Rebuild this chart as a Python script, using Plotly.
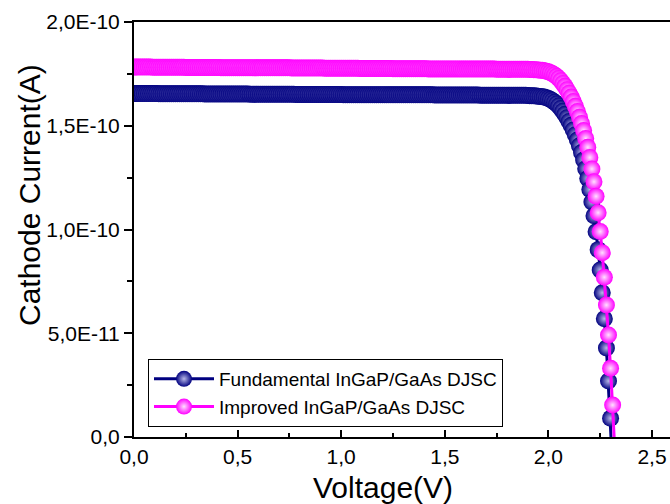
import numpy as np
import plotly.graph_objects as go

# Voltage sweep (V), 0.01 V steps
voltage_v = [
    0.00, 0.01, 0.02, 0.03, 0.04, 0.05, 0.06, 0.07, 0.08, 0.09,
    0.10, 0.11, 0.12, 0.13, 0.14, 0.15, 0.16, 0.17, 0.18, 0.19,
    0.20, 0.21, 0.22, 0.23, 0.24, 0.25, 0.26, 0.27, 0.28, 0.29,
    0.30, 0.31, 0.32, 0.33, 0.34, 0.35, 0.36, 0.37, 0.38, 0.39,
    0.40, 0.41, 0.42, 0.43, 0.44, 0.45, 0.46, 0.47, 0.48, 0.49,
    0.50, 0.51, 0.52, 0.53, 0.54, 0.55, 0.56, 0.57, 0.58, 0.59,
    0.60, 0.61, 0.62, 0.63, 0.64, 0.65, 0.66, 0.67, 0.68, 0.69,
    0.70, 0.71, 0.72, 0.73, 0.74, 0.75, 0.76, 0.77, 0.78, 0.79,
    0.80, 0.81, 0.82, 0.83, 0.84, 0.85, 0.86, 0.87, 0.88, 0.89,
    0.90, 0.91, 0.92, 0.93, 0.94, 0.95, 0.96, 0.97, 0.98, 0.99,
    1.00, 1.01, 1.02, 1.03, 1.04, 1.05, 1.06, 1.07, 1.08, 1.09,
    1.10, 1.11, 1.12, 1.13, 1.14, 1.15, 1.16, 1.17, 1.18, 1.19,
    1.20, 1.21, 1.22, 1.23, 1.24, 1.25, 1.26, 1.27, 1.28, 1.29,
    1.30, 1.31, 1.32, 1.33, 1.34, 1.35, 1.36, 1.37, 1.38, 1.39,
    1.40, 1.41, 1.42, 1.43, 1.44, 1.45, 1.46, 1.47, 1.48, 1.49,
    1.50, 1.51, 1.52, 1.53, 1.54, 1.55, 1.56, 1.57, 1.58, 1.59,
    1.60, 1.61, 1.62, 1.63, 1.64, 1.65, 1.66, 1.67, 1.68, 1.69,
    1.70, 1.71, 1.72, 1.73, 1.74, 1.75, 1.76, 1.77, 1.78, 1.79,
    1.80, 1.81, 1.82, 1.83, 1.84, 1.85, 1.86, 1.87, 1.88, 1.89,
    1.90, 1.91, 1.92, 1.93, 1.94, 1.95, 1.96, 1.97, 1.98, 1.99,
    2.00, 2.01, 2.02, 2.03, 2.04, 2.05, 2.06, 2.07, 2.08, 2.09,
    2.10, 2.11, 2.12, 2.13, 2.14, 2.15, 2.16, 2.17, 2.18, 2.19,
    2.20, 2.21, 2.22, 2.23, 2.24, 2.25, 2.26, 2.27, 2.28, 2.29,
    2.30, 2.31, 2.32,
]

# Cathode current, pA
fundamental_pA = [
    165.5, 165.5, 165.5, 165.5, 165.5, 165.5, 165.5, 165.5, 165.5, 165.5,
    165.5, 165.5, 165.4, 165.4, 165.4, 165.4, 165.4, 165.4, 165.4, 165.4,
    165.4, 165.4, 165.4, 165.4, 165.4, 165.4, 165.4, 165.4, 165.4, 165.4,
    165.4, 165.4, 165.4, 165.4, 165.3, 165.3, 165.3, 165.3, 165.3, 165.3,
    165.3, 165.3, 165.3, 165.3, 165.3, 165.3, 165.3, 165.3, 165.3, 165.3,
    165.3, 165.3, 165.3, 165.3, 165.3, 165.3, 165.2, 165.2, 165.2, 165.2,
    165.2, 165.2, 165.2, 165.2, 165.2, 165.2, 165.2, 165.2, 165.2, 165.2,
    165.2, 165.2, 165.2, 165.2, 165.2, 165.2, 165.2, 165.2, 165.1, 165.1,
    165.1, 165.1, 165.1, 165.1, 165.1, 165.1, 165.1, 165.1, 165.1, 165.1,
    165.1, 165.1, 165.1, 165.1, 165.1, 165.1, 165.1, 165.1, 165.1, 165.1,
    165.1, 165.0, 165.0, 165.0, 165.0, 165.0, 165.0, 165.0, 165.0, 165.0,
    165.0, 165.0, 165.0, 165.0, 165.0, 165.0, 165.0, 165.0, 165.0, 165.0,
    165.0, 165.0, 165.0, 164.9, 164.9, 164.9, 164.9, 164.9, 164.9, 164.9,
    164.9, 164.9, 164.9, 164.9, 164.9, 164.9, 164.9, 164.9, 164.9, 164.9,
    164.9, 164.9, 164.9, 164.9, 164.9, 164.8, 164.8, 164.8, 164.8, 164.8,
    164.8, 164.8, 164.8, 164.8, 164.8, 164.8, 164.8, 164.8, 164.8, 164.8,
    164.8, 164.8, 164.8, 164.8, 164.8, 164.8, 164.8, 164.7, 164.7, 164.7,
    164.7, 164.7, 164.7, 164.7, 164.7, 164.7, 164.7, 164.7, 164.7, 164.7,
    164.7, 164.7, 164.7, 164.7, 164.7, 164.7, 164.7, 164.7, 164.7, 164.7,
    164.6, 164.5, 164.5, 164.4, 164.3, 164.2, 164.1, 164.0, 163.8, 163.5,
    163.1, 162.6, 162.1, 161.3, 160.5, 159.5, 158.3, 157.0, 155.5, 153.9,
    152.1, 150.2, 148.0, 145.7, 143.1, 140.4, 137.1, 133.5, 129.3, 124.6,
    119.3, 113.3, 106.6, 98.9, 90.3, 80.5, 69.5, 57.0, 42.9, 27.0,
    9.0, -11.3, -35.1,
]

improved_pA = [
    178.3, 178.3, 178.3, 178.3, 178.3, 178.3, 178.3, 178.3, 178.3, 178.2,
    178.2, 178.2, 178.2, 178.2, 178.2, 178.2, 178.2, 178.2, 178.2, 178.2,
    178.2, 178.2, 178.2, 178.2, 178.2, 178.1, 178.1, 178.1, 178.1, 178.1,
    178.1, 178.1, 178.1, 178.1, 178.1, 178.1, 178.1, 178.1, 178.1, 178.1,
    178.1, 178.1, 178.0, 178.0, 178.0, 178.0, 178.0, 178.0, 178.0, 178.0,
    178.0, 178.0, 178.0, 178.0, 178.0, 178.0, 178.0, 178.0, 178.0, 177.9,
    177.9, 177.9, 177.9, 177.9, 177.9, 177.9, 177.9, 177.9, 177.9, 177.9,
    177.9, 177.9, 177.9, 177.9, 177.9, 177.9, 177.8, 177.8, 177.8, 177.8,
    177.8, 177.8, 177.8, 177.8, 177.8, 177.8, 177.8, 177.8, 177.8, 177.8,
    177.8, 177.8, 177.7, 177.7, 177.7, 177.7, 177.7, 177.7, 177.7, 177.7,
    177.7, 177.7, 177.7, 177.7, 177.7, 177.7, 177.7, 177.7, 177.7, 177.6,
    177.6, 177.6, 177.6, 177.6, 177.6, 177.6, 177.6, 177.6, 177.6, 177.6,
    177.6, 177.6, 177.6, 177.6, 177.6, 177.5, 177.5, 177.5, 177.5, 177.5,
    177.5, 177.5, 177.5, 177.5, 177.5, 177.5, 177.5, 177.5, 177.5, 177.5,
    177.5, 177.5, 177.4, 177.4, 177.4, 177.4, 177.4, 177.4, 177.4, 177.4,
    177.4, 177.4, 177.4, 177.4, 177.4, 177.4, 177.4, 177.4, 177.4, 177.3,
    177.3, 177.3, 177.3, 177.3, 177.3, 177.3, 177.3, 177.3, 177.3, 177.3,
    177.3, 177.3, 177.3, 177.3, 177.3, 177.2, 177.2, 177.2, 177.2, 177.2,
    177.2, 177.2, 177.2, 177.2, 177.2, 177.2, 177.2, 177.2, 177.2, 177.2,
    177.2, 177.1, 177.1, 177.0, 177.0, 176.9, 176.8, 176.7, 176.5, 176.3,
    176.0, 175.6, 175.1, 174.5, 173.7, 172.8, 171.7, 170.4, 169.0, 167.4,
    165.7, 163.8, 161.7, 159.4, 156.9, 154.1, 151.1, 147.7, 143.9, 139.6,
    134.7, 129.2, 123.0, 116.0, 108.1, 99.0, 88.8, 77.0, 63.6, 49.2,
    33.1, 15.4, -5.2,
]

series_names = ["Fundamental InGaP/GaAs DJSC", "Improved InGaP/GaAs DJSC"]

y_tickvals = [0.0, 5e-11, 1e-10, 1.5e-10, 2e-10]
y_ticktext = ["0,0", "5,0E-11", "1,0E-10", "1,5E-10", "2,0E-10"]
x_tickvals = [0.0, 0.5, 1.0, 1.5, 2.0, 2.5]
x_ticktext = ["0,0", "0,5", "1,0", "1,5", "2,0", "2,5"]

FONT = "Liberation Sans, Arial, sans-serif"

fig = go.Figure()
styles = [("#000080", "#b8b8e8"), ("#ff00ff", "#ffe0ff")]
for name, vals, (col, hi) in zip(series_names, [fundamental_pA, improved_pA], styles):
    fig.add_trace(go.Scatter(
        x=voltage_v,
        y=np.array(vals) * 1e-12,
        name=name,
        mode="lines+markers",
        line=dict(color=col, width=3),
        marker=dict(size=17, color=col, line=dict(width=0),
                    gradient=dict(type="radial", color=hi)),
    ))

fig.update_layout(
    width=670, height=504,
    margin=dict(l=134, r=0, t=22, b=67),
    paper_bgcolor="white", plot_bgcolor="white",
    font=dict(family=FONT, color="black", size=21),
    showlegend=True,
    legend=dict(
        x=(148 - 134) / 536, y=(437 - 359) / 415,
        xanchor="left", yanchor="top",
        bgcolor="white", bordercolor="black", borderwidth=1,
        font=dict(family=FONT, size=19, color="black"),
        itemwidth=60, tracegroupgap=0,
    ),
    xaxis=dict(
        range=[0, 536 / 207.2],
        tickvals=x_tickvals, ticktext=x_ticktext,
        ticks="inside", ticklen=7, tickwidth=1.5, tickcolor="black",
        minor=dict(dtick=0.25, ticks="inside", ticklen=4, tickwidth=1.5, tickcolor="black"),
        showline=True, linecolor="black", linewidth=2, mirror=True,
        showgrid=False, zeroline=False,
        tickfont=dict(family=FONT, size=21, color="black"),
    ),
    yaxis=dict(
        range=[0, 2e-10],
        tickvals=y_tickvals, ticktext=y_ticktext,
        ticks="outside", ticklen=8, tickwidth=1.5, tickcolor="black",
        minor=dict(dtick=2.5e-11, ticks="outside", ticklen=5, tickwidth=1.5, tickcolor="black"),
        showline=True, linecolor="black", linewidth=2, mirror=False,
        showgrid=False, zeroline=False,
        tickfont=dict(family=FONT, size=21, color="black"),
    ),
    annotations=[
        dict(text="Voltage(V)", xref="paper", yref="paper",
             x=(382.5 - 134) / 536, y=-(487 - 437) / 415,
             xanchor="center", yanchor="middle", showarrow=False,
             font=dict(family=FONT, size=30, color="black")),
        dict(text="Cathode Current(A)", xref="paper", yref="paper",
             x=-(134 - 29) / 536, y=(437 - 195) / 415,
             xanchor="center", yanchor="middle", showarrow=False, textangle=-90,
             font=dict(family=FONT, size=30, color="black")),
    ],
)

fig.write_html("out.html")
